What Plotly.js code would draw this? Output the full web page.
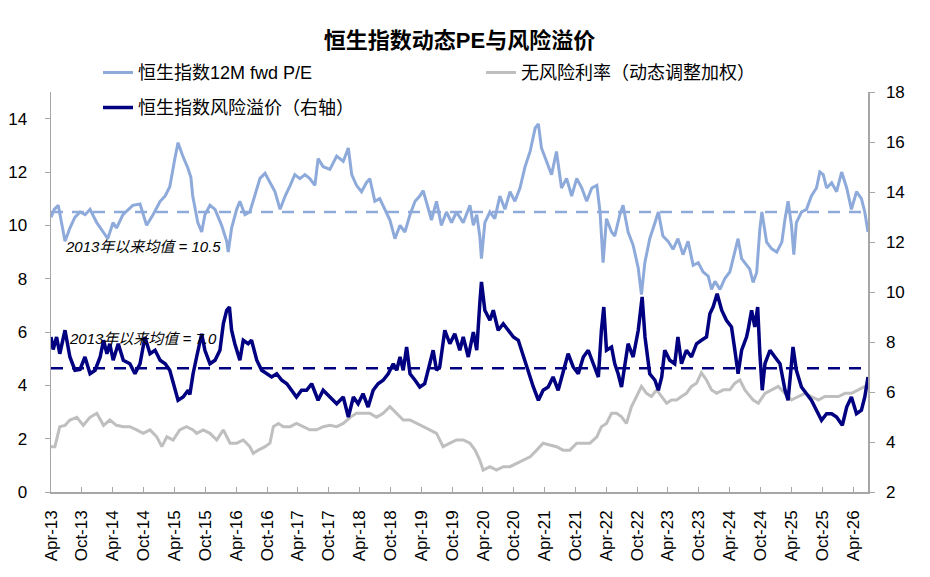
<!DOCTYPE html>
<html>
<head>
<meta charset="utf-8">
<script src="https://cdn.plot.ly/plotly-3.0.1.min.js"></script>
<style>
  html, body { margin: 0; padding: 0; background: #fff; }
  #chart { width: 930px; height: 577px; }
</style>
</head>
<body>
<div id="chart"></div>
<script>
// 恒生指数12M fwd P/E (left axis, x)
const peDates = [
  "2013-04-01", "2013-04-20", "2013-05-14", "2013-06-05", "2013-06-23", "2013-07-22", "2013-08-20", "2013-09-20",
  "2013-10-20", "2013-11-18", "2013-12-28", "2014-02-04", "2014-03-03", "2014-04-03", "2014-04-24", "2014-06-01",
  "2014-07-29", "2014-09-10", "2014-10-19", "2014-11-26", "2015-01-07", "2015-02-06", "2015-03-05", "2015-04-04",
  "2015-04-23", "2015-05-21", "2015-06-20", "2015-07-08", "2015-07-19", "2015-08-18", "2015-09-10", "2015-09-29",
  "2015-10-29", "2015-11-28", "2016-01-06", "2016-02-05", "2016-02-14", "2016-03-05", "2016-04-04", "2016-04-23",
  "2016-05-23", "2016-06-21", "2016-07-21", "2016-08-20", "2016-09-19", "2016-10-18", "2016-11-17", "2016-12-17",
  "2017-01-16", "2017-02-15", "2017-03-14", "2017-04-13", "2017-05-13", "2017-06-11", "2017-07-11", "2017-07-30",
  "2017-08-29", "2017-10-08", "2017-11-17", "2017-12-26", "2018-01-25", "2018-02-14", "2018-03-14", "2018-04-13",
  "2018-05-12", "2018-06-01", "2018-07-01", "2018-07-30", "2018-08-29", "2018-09-28", "2018-10-28", "2018-11-27",
  "2018-12-26", "2019-01-25", "2019-02-24", "2019-03-24", "2019-04-13", "2019-05-12", "2019-06-01", "2019-07-01",
  "2019-07-30", "2019-08-29", "2019-09-28", "2019-10-27", "2019-12-06", "2020-01-15", "2020-02-04", "2020-02-24",
  "2020-03-13", "2020-03-23", "2020-04-12", "2020-05-12", "2020-06-10", "2020-07-10", "2020-08-09", "2020-09-08",
  "2020-10-07", "2020-11-06", "2020-12-06", "2021-01-05", "2021-02-04", "2021-02-23", "2021-03-13", "2021-04-12",
  "2021-05-12", "2021-06-10", "2021-07-10", "2021-08-09", "2021-09-08", "2021-10-08", "2021-11-07", "2021-12-06",
  "2022-01-05", "2022-02-04", "2022-02-23", "2022-03-13", "2022-04-02", "2022-05-02", "2022-05-21", "2022-06-20",
  "2022-07-09", "2022-08-08", "2022-09-07", "2022-10-07", "2022-10-26", "2022-11-15", "2022-12-14", "2023-01-14",
  "2023-02-03", "2023-03-02", "2023-04-02", "2023-05-01", "2023-05-30", "2023-06-29", "2023-07-29", "2023-08-28",
  "2023-09-27", "2023-10-26", "2023-11-25", "2023-12-15", "2024-01-04", "2024-02-03", "2024-03-02", "2024-04-01",
  "2024-05-01", "2024-05-20", "2024-06-10", "2024-07-09", "2024-07-28", "2024-08-17", "2024-09-07", "2024-09-26",
  "2024-10-08", "2024-11-05", "2024-12-05", "2025-01-04", "2025-02-03", "2025-02-22", "2025-03-12", "2025-04-01",
  "2025-04-15", "2025-04-30", "2025-05-30", "2025-06-29", "2025-07-28", "2025-08-27", "2025-09-16", "2025-10-06",
  "2025-10-26", "2025-11-25", "2025-12-24", "2026-01-23", "2026-02-22", "2026-03-22", "2026-04-21", "2026-05-20",
  "2026-06-09", "2026-06-28"
];
const peValues = [
  10.3, 10.6, 10.75, 10.0, 9.4, 9.9, 10.3, 10.5,
  10.4, 10.6, 10.1, 9.75, 9.5, 10.1, 9.9, 10.4,
  10.75, 10.8, 10.0, 10.4, 10.9, 11.1, 11.45, 12.5,
  13.1, 12.6, 12.15, 11.8, 11.1, 10.1, 9.75, 10.4,
  10.75, 10.6, 10.0, 9.4, 9.0, 9.9, 10.6, 10.9,
  10.4, 10.5, 11.1, 11.76, 11.95, 11.6, 11.26, 10.6,
  11.1, 11.5, 11.9, 11.75, 11.9, 11.75, 11.5, 12.5,
  12.2, 12.1, 12.6, 12.4, 12.9, 11.9, 11.5, 11.26,
  11.6, 11.75, 10.9, 11.0, 10.6, 10.2, 9.5, 10.0,
  9.75, 10.4, 10.9, 11.1, 11.3, 10.6, 10.2, 10.9,
  10.0, 10.5, 10.1, 10.5, 10.1, 10.75, 10.0, 10.4,
  9.6, 8.75, 10.1, 10.5, 10.25, 11.1, 10.6, 11.26,
  10.9, 11.4, 12.2, 12.77, 13.65, 13.8, 12.9, 12.4,
  11.9, 12.77, 11.4, 11.76, 11.1, 11.76, 11.4, 10.9,
  11.4, 11.5, 10.5, 8.6, 10.25, 9.75, 9.6, 10.4,
  10.75, 9.75, 9.25, 8.4, 7.4, 8.6, 9.5, 10.1,
  10.5, 9.6, 9.4, 9.1, 9.5, 8.9, 9.4, 8.5,
  8.6, 8.25, 8.1, 7.6, 7.9, 7.6, 8.0, 8.25,
  9.0, 9.5, 8.75, 8.5, 8.36, 7.86, 8.23, 9.87,
  10.5, 9.37, 9.12, 9.0, 9.37, 10.25, 10.9, 10.0,
  8.9, 10.1, 10.5, 10.6, 11.1, 11.4, 12.0, 11.9,
  11.4, 11.6, 11.26, 12.0, 11.4, 10.6, 11.26, 11.0,
  10.5, 9.75
];

// 无风险利率（动态调整加权） (left axis)
const rfDates = [
  "2013-04-01", "2013-04-24", "2013-05-23", "2013-06-23", "2013-07-22", "2013-09-01", "2013-10-09", "2013-11-18",
  "2013-12-28", "2014-02-06", "2014-03-15", "2014-04-24", "2014-06-03", "2014-07-12", "2014-08-21", "2014-09-29",
  "2014-11-08", "2014-12-18", "2015-01-17", "2015-02-16", "2015-03-25", "2015-05-03", "2015-06-12", "2015-07-21",
  "2015-08-11", "2015-09-19", "2015-10-29", "2015-12-08", "2016-01-16", "2016-02-25", "2016-04-04", "2016-05-13",
  "2016-06-21", "2016-07-11", "2016-08-10", "2016-09-19", "2016-10-18", "2016-11-07", "2016-12-07", "2017-01-06",
  "2017-02-15", "2017-03-24", "2017-05-03", "2017-06-11", "2017-07-21", "2017-08-29", "2017-10-08", "2017-11-17",
  "2017-12-26", "2018-02-05", "2018-03-14", "2018-04-22", "2018-06-01", "2018-07-11", "2018-08-19", "2018-09-28",
  "2018-11-07", "2018-12-16", "2019-01-25", "2019-03-04", "2019-04-13", "2019-05-22", "2019-07-01", "2019-08-09",
  "2019-09-18", "2019-10-27", "2019-12-06", "2020-01-15", "2020-02-14", "2020-03-13", "2020-04-02", "2020-05-12",
  "2020-06-20", "2020-07-30", "2020-09-08", "2020-10-17", "2020-11-26", "2021-01-05", "2021-02-13", "2021-03-23",
  "2021-05-02", "2021-06-10", "2021-07-19", "2021-08-28", "2021-10-08", "2021-11-16", "2021-12-25", "2022-02-04",
  "2022-03-03", "2022-04-02", "2022-05-02", "2022-06-01", "2022-06-30", "2022-07-29", "2022-08-28", "2022-09-27",
  "2022-10-26", "2022-11-25", "2022-12-24", "2023-01-24", "2023-02-23", "2023-03-24", "2023-04-22", "2023-05-22",
  "2023-06-20", "2023-07-19", "2023-08-18", "2023-09-17", "2023-10-16", "2023-11-15", "2023-12-15", "2024-01-14",
  "2024-02-23", "2024-04-01", "2024-05-01", "2024-05-31", "2024-06-29", "2024-07-28", "2024-08-17", "2024-09-17",
  "2024-10-26", "2024-12-05", "2025-01-13", "2025-02-22", "2025-04-01", "2025-05-11", "2025-06-20", "2025-07-28",
  "2025-09-07", "2025-10-16", "2025-11-25", "2026-01-04", "2026-02-12", "2026-03-22", "2026-05-02", "2026-06-09",
  "2026-06-28"
];
const rfValues = [
  1.7, 1.7, 2.45, 2.5, 2.7, 2.8, 2.5, 2.8,
  2.95, 2.5, 2.7, 2.5, 2.45, 2.45, 2.33, 2.2,
  2.33, 2.07, 1.7, 2.07, 1.95, 2.33, 2.45, 2.33,
  2.2, 2.33, 2.2, 1.95, 2.33, 1.83, 1.83, 1.95,
  1.7, 1.45, 1.57, 1.7, 1.83, 2.45, 2.57, 2.45,
  2.45, 2.57, 2.45, 2.33, 2.33, 2.45, 2.5, 2.45,
  2.57, 2.8, 2.95, 2.95, 2.95, 2.8, 2.95, 3.2,
  2.95, 2.7, 2.7, 2.57, 2.45, 2.33, 2.2, 1.7,
  1.83, 1.95, 1.95, 1.83, 1.57, 1.2, 0.82, 0.95,
  0.82, 0.95, 0.95, 1.07, 1.2, 1.32, 1.57, 1.83,
  1.76, 1.7, 1.57, 1.57, 1.83, 1.83, 1.83, 2.07,
  2.45, 2.57, 2.95, 2.95, 2.82, 2.57, 3.2, 3.58,
  3.96, 3.7, 3.58, 3.83, 3.58, 3.33, 3.45, 3.45,
  3.58, 3.7, 3.96, 4.08, 4.47, 4.2, 3.83, 3.7,
  3.83, 3.83, 4.08, 4.2, 3.83, 3.58, 3.45, 3.33,
  3.7, 3.83, 3.96, 3.7, 3.45, 3.58, 3.7, 3.58,
  3.45, 3.58, 3.58, 3.58, 3.7, 3.7, 3.83, 3.96,
  3.9
];

// 恒生指数风险溢价 (right axis, %)
const erpDates = [
  "2013-04-01", "2013-04-14", "2013-05-04", "2013-05-23", "2013-06-23", "2013-07-22", "2013-08-21", "2013-09-20",
  "2013-10-19", "2013-11-18", "2013-12-18", "2014-01-17", "2014-02-06", "2014-02-26", "2014-03-15", "2014-04-04",
  "2014-05-04", "2014-06-03", "2014-07-12", "2014-08-11", "2014-09-10", "2014-10-09", "2014-11-08", "2014-12-08",
  "2015-01-07", "2015-02-06", "2015-03-05", "2015-04-04", "2015-04-23", "2015-05-23", "2015-06-22", "2015-07-02",
  "2015-07-21", "2015-08-11", "2015-09-10", "2015-09-29", "2015-10-29", "2015-11-28", "2015-12-27", "2016-01-16",
  "2016-02-05", "2016-02-21", "2016-03-05", "2016-03-24", "2016-04-23", "2016-05-13", "2016-06-11", "2016-07-01",
  "2016-08-01", "2016-08-30", "2016-09-29", "2016-10-28", "2016-11-27", "2016-12-27", "2017-01-26", "2017-02-25",
  "2017-03-24", "2017-04-23", "2017-05-23", "2017-06-22", "2017-07-30", "2017-08-29", "2017-10-08", "2017-11-17",
  "2017-12-26", "2018-01-25", "2018-02-24", "2018-03-24", "2018-04-22", "2018-05-22", "2018-06-21", "2018-07-20",
  "2018-08-19", "2018-09-18", "2018-10-18", "2018-11-07", "2018-11-27", "2018-12-16", "2019-01-05", "2019-01-25",
  "2019-02-24", "2019-03-24", "2019-04-22", "2019-05-22", "2019-06-11", "2019-07-01", "2019-07-20", "2019-08-19",
  "2019-09-18", "2019-10-17", "2019-11-16", "2019-12-06", "2020-01-05", "2020-02-04", "2020-02-24", "2020-03-13",
  "2020-03-23", "2020-04-12", "2020-05-12", "2020-06-01", "2020-06-30", "2020-07-30", "2020-08-29", "2020-09-28",
  "2020-10-27", "2020-11-26", "2020-12-25", "2021-01-24", "2021-02-23", "2021-03-23", "2021-04-22", "2021-05-21",
  "2021-06-20", "2021-07-19", "2021-08-18", "2021-09-17", "2021-10-17", "2021-11-16", "2021-12-15", "2022-01-14",
  "2022-02-13", "2022-03-03", "2022-03-17", "2022-04-02", "2022-05-02", "2022-05-21", "2022-06-10", "2022-06-30",
  "2022-07-19", "2022-08-08", "2022-09-07", "2022-10-07", "2022-10-30", "2022-11-16", "2022-12-14", "2023-01-14",
  "2023-02-03", "2023-02-23", "2023-03-13", "2023-04-12", "2023-05-11", "2023-05-30", "2023-06-20", "2023-07-19",
  "2023-08-18", "2023-09-17", "2023-10-16", "2023-11-15", "2023-12-05", "2023-12-24", "2024-01-17", "2024-02-13",
  "2024-03-12", "2024-04-11", "2024-05-01", "2024-05-20", "2024-06-10", "2024-07-09", "2024-07-18", "2024-08-08",
  "2024-08-27", "2024-09-13", "2024-09-26", "2024-10-10", "2024-10-26", "2024-11-25", "2024-12-24", "2025-01-23",
  "2025-02-22", "2025-03-12", "2025-04-01", "2025-04-10", "2025-04-30", "2025-05-30", "2025-06-29", "2025-07-28",
  "2025-08-27", "2025-09-26", "2025-10-26", "2025-11-25", "2025-12-24", "2026-01-27", "2026-02-22", "2026-03-22",
  "2026-04-21", "2026-05-20", "2026-06-09", "2026-06-28"
];
const erpValues = [
  8.2, 7.7, 8.2, 7.53, 8.47, 7.4, 6.87, 6.9,
  7.4, 6.73, 6.87, 7.4, 8.07, 7.53, 7.93, 7.27,
  7.93, 7.27, 7.13, 6.73, 7.13, 8.2, 7.53, 7.67,
  7.27, 7.13, 6.87, 6.2, 5.67, 5.8, 6.07, 5.9,
  6.73, 7.4, 8.33, 7.67, 7.13, 7.27, 7.67, 8.73,
  9.27, 9.4, 8.47, 7.93, 7.27, 8.07, 7.93, 8.07,
  7.27, 6.87, 6.73, 6.6, 6.73, 6.47, 6.33, 6.07,
  5.8, 6.07, 6.07, 6.33, 5.67, 6.07, 5.8, 5.53,
  5.8, 5.0, 5.8, 5.53, 5.93, 5.4, 6.07, 6.33,
  6.47, 6.73, 7.13, 6.87, 7.4, 6.87, 7.8, 6.73,
  6.47, 6.2, 6.33, 7.13, 7.67, 6.87, 7.0, 8.47,
  7.93, 8.33, 7.67, 8.2, 7.4, 8.4, 7.67, 9.53,
  10.4, 9.27, 8.87, 9.27, 8.47, 8.73, 8.47, 8.2,
  8.07, 7.4, 6.87, 6.2, 5.67, 6.07, 6.2, 6.6,
  6.07, 6.73, 7.53, 7.0, 6.73, 7.4, 7.67, 7.13,
  6.6, 8.47, 9.4, 7.67, 7.8, 7.13, 6.73, 6.2,
  7.13, 7.93, 7.4, 8.47, 9.8, 8.2, 6.73, 6.47,
  6.07, 6.6, 7.67, 7.27, 7.13, 8.2, 7.13, 7.67,
  7.4, 7.93, 8.07, 8.2, 9.13, 9.4, 9.93, 9.27,
  8.87, 8.6, 7.67, 6.73, 7.67, 8.2, 8.47, 9.27,
  8.6, 9.4, 7.53, 6.07, 7.13, 7.67, 7.4, 7.13,
  6.07, 5.67, 7.13, 7.8, 6.87, 6.2, 5.93, 5.67,
  5.27, 4.87, 5.13, 5.13, 5.0, 4.67, 5.4, 5.8,
  5.13, 5.27, 5.8, 6.6
];

// 2013年以来均值
const meanPE = 10.5;
const meanERP = 6.95;
const meanLabels = ["2013年以来均值 = 10.5", "2013年以来均值 = 7.0"];
const xRange = ["2013-04-01", "2026-06-28"];

const FONT = "Liberation Sans, Arial, Noto Sans CJK SC, sans-serif";
const AXIS_GREY = "#a6a6a6";

const traces = [
  {
    x: xRange, y: [meanPE, meanPE], yaxis: "y",
    mode: "lines", showlegend: false, hoverinfo: "skip",
    line: { color: "#8eaadb", width: 2.5, dash: "12px,9px" },
  },
  {
    x: xRange, y: [meanERP, meanERP], yaxis: "y2",
    mode: "lines", showlegend: false, hoverinfo: "skip",
    line: { color: "#000080", width: 2.5, dash: "12px,9px" },
  },
  {
    x: peDates, y: peValues, yaxis: "y",
    name: "恒生指数12M fwd P/E", mode: "lines", legend: "legend",
    line: { color: "#8eaadb", width: 3 },
  },
  {
    x: rfDates, y: rfValues, yaxis: "y",
    name: "无风险利率（动态调整加权）", mode: "lines", legend: "legend",
    line: { color: "#bfbfbf", width: 3 },
  },
  {
    x: erpDates, y: erpValues, yaxis: "y2",
    name: "恒生指数风险溢价（右轴）", mode: "lines", legend: "legend2",
    line: { color: "#000080", width: 3.5 },
  },
];

const legendBase = {
  orientation: "h",
  xref: "container",
  yref: "container",
  xanchor: "left",
  yanchor: "middle",
  bgcolor: "rgba(0,0,0,0)",
  font: { family: FONT, size: 18, color: "#000" },
  entrywidth: 338,
  entrywidthmode: "pixels",
  traceorder: "normal",
};

const layout = {
  width: 930,
  height: 577,
  margin: { l: 51, r: 62, t: 92, b: 85, autoexpand: false },
  paper_bgcolor: "#fff",
  plot_bgcolor: "#fff",
  font: { family: FONT, color: "#000", size: 17 },
  title: {
    text: "<b>恒生指数动态PE与风险溢价</b>",
    font: { family: FONT, size: 22, color: "#000" },
    xref: "paper", x: 0.5, xanchor: "center",
    yref: "container", y: 1 - 40 / 577, yanchor: "middle",
  },
  showlegend: true,
  legend: Object.assign({}, legendBase, { x: 98 / 930, y: 1 - 72.7 / 577 }),
  legend2: Object.assign({}, legendBase, { x: 98 / 930, y: 1 - 107.7 / 577 }),
  xaxis: {
    type: "date",
    range: xRange,
    tick0: "2013-04-01",
    dtick: "M6",
    tickformat: "%b-%y",
    tickangle: -90,
    ticks: "inside",
    ticklen: 5,
    tickcolor: AXIS_GREY,
    ticklabelstandoff: 10,
    showline: true,
    linecolor: AXIS_GREY,
    linewidth: 1.5,
    showgrid: false,
    zeroline: false,
    tickfont: { family: FONT, size: 17, color: "#000" },
  },
  yaxis: {
    range: [0, 15],
    tick0: 0,
    dtick: 2,
    ticks: "outside",
    ticklen: 5,
    tickcolor: AXIS_GREY,
    ticklabelstandoff: 14,
    showline: true,
    linecolor: AXIS_GREY,
    linewidth: 1.5,
    showgrid: false,
    zeroline: false,
    tickfont: { family: FONT, size: 17, color: "#000" },
  },
  yaxis2: {
    overlaying: "y",
    side: "right",
    range: [2, 18],
    tick0: 2,
    dtick: 2,
    ticks: "outside",
    ticklen: 5,
    tickcolor: AXIS_GREY,
    ticklabelstandoff: 8,
    showline: true,
    linecolor: AXIS_GREY,
    linewidth: 1.5,
    showgrid: false,
    zeroline: false,
    tickfont: { family: FONT, size: 17, color: "#000" },
  },
  annotations: [
    {
      text: "(X)", xref: "container", yref: "container",
      x: 47 / 930, y: 1 - 30 / 577, xanchor: "center", yanchor: "middle",
      showarrow: false, font: { family: FONT, size: 17, color: "#000" },
    },
    {
      text: "(%)", xref: "container", yref: "container",
      x: 858 / 930, y: 1 - 30 / 577, xanchor: "center", yanchor: "middle",
      showarrow: false, font: { family: FONT, size: 17, color: "#000" },
    },
    {
      text: "<i>" + meanLabels[0] + "</i>", xref: "paper", yref: "paper",
      x: 0.0147, y: 0.6125, xanchor: "left", yanchor: "middle",
      showarrow: false, font: { family: FONT, size: 15, color: "#000" },
    },
    {
      text: "<i>" + meanLabels[1] + "</i>", xref: "paper", yref: "paper",
      x: 0.019, y: 0.384, xanchor: "left", yanchor: "middle",
      showarrow: false, font: { family: FONT, size: 15, color: "#000" },
    },
  ],
};

const config = {
  displayModeBar: false,
  responsive: false,
  staticPlot: true,
};

Plotly.newPlot("chart", traces, layout, config);
</script>
</body>
</html>
